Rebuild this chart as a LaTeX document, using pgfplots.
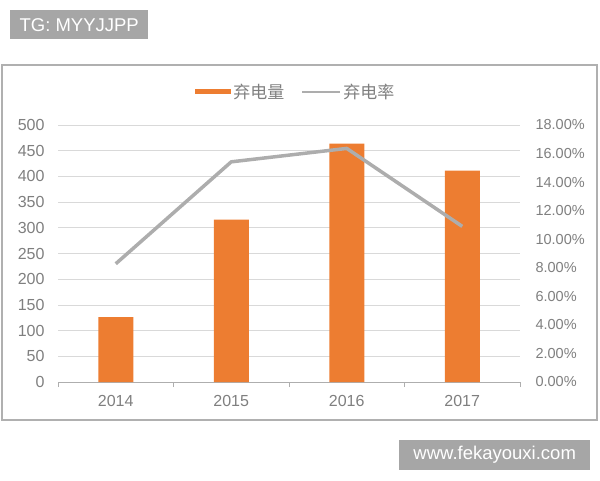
\documentclass[border=0pt]{standalone}
\usepackage{pgfplots}
\pgfplotsset{compat=1.18}
\usepackage{fontspec}
\setmainfont{Liberation Sans}
\newfontfamily\cjk{Noto Sans CJK SC}
\definecolor{barorange}{HTML}{ED7D31}
\definecolor{linegray}{HTML}{ADADAD}
\definecolor{txtgray}{HTML}{7F7F7F}
\definecolor{gridgray}{HTML}{D9D9D9}
\definecolor{wmgray}{HTML}{A6A6A6}
\definecolor{framegray}{HTML}{B0B0B0}
\begin{document}
\begin{tikzpicture}[x=1pt,y=1pt]
\path (0,0) rectangle (600,480);
\draw[framegray, line width=1.3pt] (2,415) rectangle (597,60);
\node[fill=wmgray, text=white, minimum width=138pt, minimum height=29pt, inner sep=0pt, anchor=north west, font=\fontsize{18.5}{20}\selectfont] at (10,470) {TG: MYYJJPP};
\node[fill=wmgray, text=white, minimum width=191pt, minimum height=30pt, inner sep=0pt, anchor=north west, font=\fontsize{18.5}{20}\selectfont] at (399,40) {www.fekayouxi.com};

\begin{axis}[
  at={(58pt,98pt)}, anchor=south west, scale only axis,
  width=462pt, height=257pt,
  xmin=-0.5, xmax=3.5, ymin=0, ymax=500,
  ytick={0,50,...,500},
  xtick={-0.5,0.5,1.5,2.5,3.5},
  x tick label as interval,
  xticklabels={2014,2015,2016,2017},
  /pgf/number format/assume math mode=true,
  axis x line*=bottom, axis y line*=left,
  y axis line style={draw=none},
  x axis line style={gridgray!80!black, line width=0.8pt},
  ymajorgrids, grid style={gridgray, line width=0.8pt},
  ytick style={draw=none},
  xtick style={gridgray!80!black, line width=0.8pt},
  tick align=outside, major tick length=5pt,
  tick label style={text=txtgray, font=\fontsize{16}{18}\selectfont},
  yticklabel style={xshift=-5pt},
  xticklabel style={yshift=-5pt},
  legend style={at={(0.515,1.13)}, anchor=center, draw=none, fill=none,
    legend columns=2, font=\cjk\fontsize{17}{19}\selectfont, text=txtgray,
    /tikz/every even column/.append style={column sep=15pt}},
  legend cell align=left,
]
\addplot[ybar, bar width=35pt, fill=barorange, draw=none,
  legend image code/.code={\fill[barorange] (0pt,-2.8pt) rectangle (36pt,2.8pt);}]
  coordinates {(0,126) (1,316) (2,464) (3,411)};
\addlegendentry{弃电量}
\addlegendimage{legend image code/.code={\draw[linegray, line width=2pt] (0pt,0pt) -- (38pt,0pt);}}
\addlegendentry{弃电率}
\end{axis}

\begin{axis}[
  at={(58pt,98pt)}, anchor=south west, scale only axis,
  width=462pt, height=257pt,
  xmin=-0.5, xmax=3.5, ymin=0, ymax=18,
  ytick={0,2,...,18},
  yticklabels={0.00\%,2.00\%,4.00\%,6.00\%,8.00\%,10.00\%,12.00\%,14.00\%,16.00\%,18.00\%},
  axis x line=none, axis y line*=right,
  y axis line style={draw=none},
  ytick style={draw=none},
  tick label style={text=txtgray, font=\fontsize{14.5}{16}\selectfont},
  yticklabel style={xshift=12pt},
]
\addplot[linegray, line width=3.5pt, no marks, line join=round]
  coordinates {(0,8.28) (1,15.42) (2,16.36) (3,10.9)};
\end{axis}
\end{tikzpicture}
\end{document}
